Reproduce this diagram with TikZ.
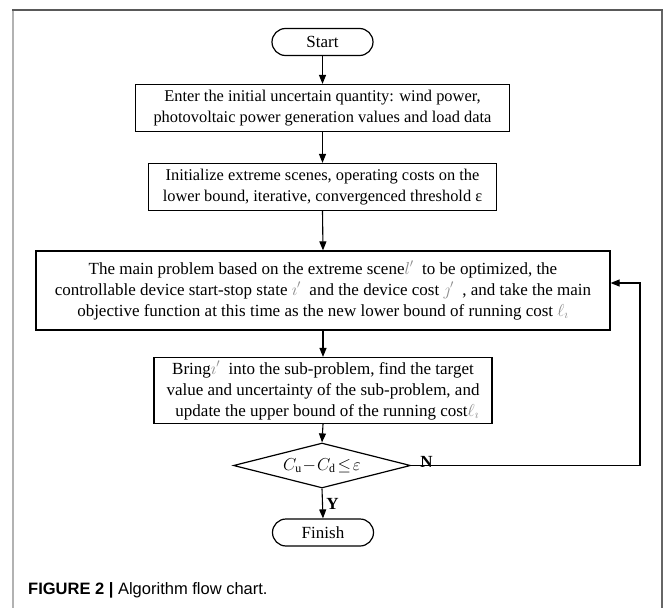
\documentclass[tikz,border=0pt]{standalone}
\usepackage{fontspec}
\setmainfont{Liberation Serif}
\newfontfamily\capfont{Liberation Sans}
\usetikzlibrary{shapes.geometric,arrows.meta}
\newcommand\gsym[1]{{\color{black!45}$#1$}}
\begin{document}
\begin{tikzpicture}[x=1pt,y=-1pt,
  font=\fontsize{17}{21}\selectfont,
  box/.style={draw, line width=1.2pt, align=center, inner xsep=4pt, inner ysep=2pt},
  smallbox/.style={box, font=\fontsize{16.4}{20.5}\selectfont, minimum height=47pt},
  term/.style={draw, line width=1.2pt, rounded corners=13.5pt, minimum width=101pt, minimum height=27pt, inner sep=0pt},
  arr/.style={line width=1.1pt, -{Triangle[length=9pt,width=7pt]}},
  lab/.style={font=\fontsize{17}{20}\selectfont\bfseries}]
\useasboundingbox (0,0) rectangle (665,608);
\fill[white] (0,0) rectangle (665,608);
% frame
\draw[line width=2pt, black!30] (13,10) -- (13,608);
\draw[line width=2pt, black!60] (662,10) -- (662,608);
\draw[line width=2pt, black!65] (12,10) -- (663,10);
% nodes
\node[term] (start) at (322.5,42) {Start};
\node[smallbox, minimum width=374pt] (b1) at (322.5,108)
  {Enter the initial uncertain quantity: wind power,\\photovoltaic power generation values and load data};
\node[smallbox, minimum width=348pt] (b2) at (322.5,187)
  {Initialize extreme scenes, operating costs on the\\lower bound, iterative, convergenced threshold ε};
\node[box, minimum width=574pt, minimum height=79pt] (b3) at (323,290.5)
  {The main problem based on the extreme scene\gsym{l'}\ \ to be optimized, the\\
   controllable device start-stop state \gsym{\imath'}\ \ and the device cost \gsym{\jmath'}\ \ , and take the main\\
   objective function at this time as the new lower bound of running cost \gsym{\ell_{\imath}}};
\node[box, minimum width=338pt, minimum height=66pt] (b4) at (323,390.5)
  {Bring\gsym{\imath'}\ \ into the sub-problem, find the target\\
   value and uncertainty of the sub-problem, and\\
   \ \ update the upper bound of the running cost\gsym{\ell_{\imath}}};
\node[draw, diamond, aspect=3.9, minimum width=177pt, minimum height=45pt, inner sep=0pt, line width=1.2pt] (dia) at (322,465.5)
  {$C_{\mathrm{u}}\!-\!C_{\mathrm{d}}\!\le\!\varepsilon$};
\node[term] (fin) at (323,532.5) {Finish};
% connectors
\draw[arr] (start.south) -- (b1.north);
\draw[arr] (b1.south) -- (b2.north);
\draw[arr] (b2.south) -- (b3.north);
\draw[arr] (b3.south) -- (b4.north);
\draw[arr] (b4.south) -- (dia.north);
\draw[arr] (dia.south) -- (fin.north) node[midway, right, lab] {Y};
\coordinate (r1) at (640,465.5);
\coordinate (r2) at (640,283);
\draw[arr] (dia.east) -- (r1) -- (r2) -- (r2 -| b3.east);
\node[lab, anchor=south west, inner sep=1pt] (nlab) at ([shift={(8,3)}]dia.east) {N};
% caption
\node[anchor=west, inner sep=0pt, font=\capfont\fontsize{16.5}{19}\selectfont] (cap) at (28,590)
  {\textbf{FIGURE 2 |} Algorithm flow chart.};
\end{tikzpicture}
\end{document}
